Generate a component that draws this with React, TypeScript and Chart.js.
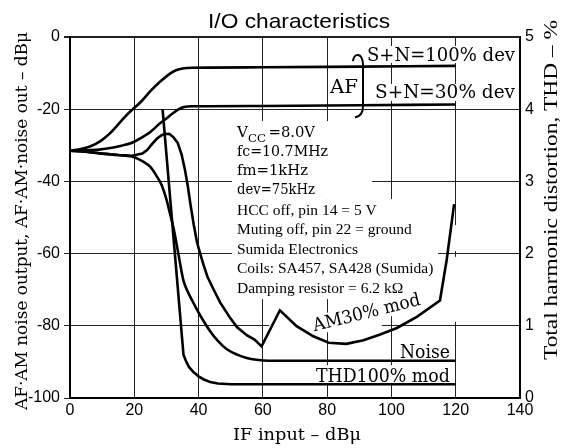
import React, { useEffect, useRef } from 'react';
import { Chart, registerables } from 'chart.js';

Chart.register(...registerables);

// ---- data (x: IF input dBμ, y: output dBμ / THD %) ----
const af100X = [0, 3, 6, 8, 10, 12.4, 15, 17, 19.3, 22, 25, 28, 31, 33, 35, 38, 60, 90, 120];
const af100Y = [-31.5, -31.1, -30.4, -29.6, -28.5, -26.7, -24.2, -22.2, -20.2, -18, -15, -12.4, -10.2, -9.2, -8.7, -8.5, -8.4, -8.2, -8.0];

const af30X = [0, 5, 9, 13, 16, 19.3, 22, 25, 28, 30, 32, 34, 35.5, 38, 60, 90, 120];
const af30Y = [-31.5, -31.4, -31.2, -30.7, -30.1, -29.3, -28.0, -26.3, -23.9, -22.6, -21.1, -19.9, -19.4, -19.2, -19.1, -18.9, -18.7];

const am30X = [0, 5, 10, 15, 19.3, 22.5, 24, 25.5, 27, 28.5, 29.7, 31, 32.2, 33.5, 34.7, 35.7, 36.6, 37.5, 38.5, 39.5, 40.5, 41.5, 42.8, 44.6, 46.7, 49.8, 52, 55, 57.5, 59.6, 65.3, 70.5, 75.7, 80.5, 86, 91.3, 96.5, 101.7, 107.9, 115.1, 117.2, 119.5];
const am30Y = [-31.5, -31.8, -32.3, -32.7, -32.9, -32.3, -31.3, -29.7, -28.2, -27.2, -26.8, -26.9, -27.8, -29.3, -32.5, -36.5, -41, -46.5, -52, -56.8, -60, -63, -66.5, -69.8, -73.5, -77.8, -80.4, -82.6, -83.9, -85.7, -75.7, -80.1, -82.9, -84.7, -85.0, -84.0, -82.4, -80.6, -77.5, -73.0, -61.7, -46.3];

const noiseX = [0, 5, 10, 15, 19.3, 22.8, 25, 27, 28.5, 30, 31, 32.1, 33.3, 34.3, 35.3, 36.5, 38, 39.5, 41.5, 43.6, 46, 48.8, 52, 55, 58, 62, 80, 120];
const noiseY = [-31.5, -31.8, -32.3, -32.7, -33.1, -34.5, -36, -38.6, -41, -45, -48.5, -52.5, -58, -63, -67.5, -70.3, -73, -75.5, -78.6, -81.5, -84.2, -86.5, -88, -88.9, -89.4, -89.7, -89.7, -89.7];

const thdX = [28.8, 35.3, 36, 37, 38.4, 40, 41.5, 43.6, 46, 50, 120];
const thdY = [4.0, 0.6, 0.52, 0.43, 0.36, 0.3, 0.26, 0.22, 0.2, 0.19, 0.19];

// ---- axes ----
const X_MIN = 0, X_MAX = 140, X_STEP = 20;
const Y_MIN = -100, Y_MAX = 0, Y_STEP = 20;
const Y2_MIN = 0, Y2_MAX = 5, Y2_STEP = 1;

// ---- texts ----
const TITLE = 'I/O characteristics';
const X_TITLE = 'IF input – dBμ';
const Y_TITLE = 'AF·AM noise output, AF·AM·noise out – dBμ';
const Y2_TITLE = 'Total harmonic distortion, THD – %';
const COND_TOP = ['fc=10.7MHz', 'fm=1kHz', 'dev=75kHz'];
const COND_TOP_Y = [-32.96, -38.2, -43.5];
const COND_TOP_W = [91, 71, 78];
const COND_BOTTOM = ['HCC off, pin 14 = 5 V', 'Muting off, pin 22 = ground', 'Sumida Electronics', 'Coils: SA457, SA428 (Sumida)', 'Damping resistor = 6.2 kΩ'];
const COND_BOTTOM_Y = [-49.3, -54.7, -60.1, -65.5, -70.9];

// white cut-outs behind labels: [x1, x2, y1, y2] in data units
const MASKS = [
  [50.4, 94.0, -23.3, -44.9],
  [50.4, 114.5, -44.9, -72.6],
  [91.5, 139.1, -2.5, -7.2],
  [94.0, 139.1, -13.0, -17.7],
  [80.6, 87.7, -11.1, -16.3],
  [101.7, 118.8, -84.2, -89.5],
  [75.6, 118.8, -90.9, -96.1],
  [62, 97, -78.9, -81.4],
  [118.8, 120.7, -52.1, -59.3],
  [118.8, 120.7, -60.9, -78.9],
];

const pts = (xs: number[], ys: number[]) => xs.map((x, i) => ({ x, y: ys[i] }));

const DJ = '"DejaVu Serif"';
const LS = '"Liberation Serif"';

function fit(ctx: CanvasRenderingContext2D, text: string, x: number, y: number, font: string, width: number | null, align: CanvasTextAlign = 'left', angle = 0) {
  ctx.save();
  ctx.font = font;
  const w = ctx.measureText(text).width;
  const s = width ? width / w : 1;
  ctx.translate(x, y);
  if (angle) ctx.rotate(angle);
  ctx.scale(s, 1);
  ctx.textAlign = align;
  ctx.textBaseline = 'alphabetic';
  ctx.fillStyle = '#000';
  ctx.fillText(text, 0, 0);
  ctx.restore();
}

const annotate = {
  id: 'annotate',
  beforeDatasetsDraw(chart: any) {
    const { ctx, scales } = chart;
    const X = (v: number) => scales.x.getPixelForValue(v);
    const Y = (v: number) => scales.y.getPixelForValue(v);
    ctx.save();
    ctx.fillStyle = '#fff';
    for (const [x1, x2, y1, y2] of MASKS) {
      const a = X(x1), b = X(x2), c = Y(y1), d = Y(y2);
      ctx.fillRect(Math.min(a, b), Math.min(c, d), Math.abs(b - a), Math.abs(d - c));
    }
    ctx.translate(X(92.7), Y(-77.84));
    ctx.rotate((-14 * Math.PI) / 180);
    ctx.fillRect(-58, -15, 116, 19);
    ctx.restore();
  },
  afterDatasetsDraw(chart: any) {
    const { ctx, scales, chartArea: ca } = chart;
    const X = (v: number) => scales.x.getPixelForValue(v);
    const Y = (v: number) => scales.y.getPixelForValue(v);
    const midX = (ca.left + ca.right) / 2;

    fit(ctx, TITLE, midX + 4, 28, '21px "Liberation Sans"', 182, 'center');
    fit(ctx, X_TITLE, midX + 2, 440, `17px ${DJ}`, 128, 'center');
    fit(ctx, Y_TITLE, 27, 221, `17px ${DJ}`, 378, 'center', -Math.PI / 2);
    fit(ctx, Y2_TITLE, 557, 190, `19px ${LS}`, 340, 'center', -Math.PI / 2);

    // conditions block
    const cx = X(51.95);
    fit(ctx, 'V', cx, Y(-27.7), `14px ${DJ}`, 11);
    fit(ctx, 'CC', X(55.38), Y(-28.95), `11px ${DJ}`, 18);
    fit(ctx, '=8.0V', X(61.76), Y(-27.7), `14px ${DJ}`, 46.5);
    COND_TOP.forEach((t, i) => fit(ctx, t, cx, Y(COND_TOP_Y[i]), `14px ${DJ}`, COND_TOP_W[i]));
    COND_BOTTOM.forEach((t, i) => fit(ctx, t, cx, Y(COND_BOTTOM_Y[i]), `15.5px ${LS}`, null));

    // curve labels
    fit(ctx, 'S+N=100% dev', X(92.4), Y(-6.57), `18px ${DJ}`, 148);
    fit(ctx, 'S+N=30% dev', X(94.9), Y(-16.98), `18px ${DJ}`, 140);
    fit(ctx, 'AF', X(85.24), Y(-15.6), `18px ${DJ}`, 28, 'center');
    fit(ctx, 'Noise', X(118.2), Y(-88.8), `19px ${DJ}`, 50, 'right');
    fit(ctx, 'THD100% mod', X(118.2), Y(-95.5), `19px ${DJ}`, 134, 'right');
    fit(ctx, 'AM30% mod', X(92.7), Y(-77.84), `18px ${DJ}`, 110, 'center', (-14 * Math.PI) / 180);

    // brace for AF
    ctx.save();
    ctx.strokeStyle = '#000';
    ctx.lineWidth = 2;
    ctx.beginPath();
    ctx.moveTo(X(88.04), Y(-6.65));
    ctx.bezierCurveTo(X(88.36), Y(-4.43), X(90.85), Y(-4.16), X(91.16), Y(-7.48));
    ctx.lineTo(X(91.16), Y(-19.11));
    ctx.quadraticCurveTo(X(91.16), Y(-21.88), X(88.67), Y(-22.3));
    ctx.stroke();
    ctx.restore();
  },
};

const lineStyle = { borderColor: '#000', borderWidth: 2.6, pointRadius: 0, fill: false };

export default function App() {
  const ref = useRef<HTMLCanvasElement>(null);
  useEffect(() => {
    const chart = new Chart(ref.current as HTMLCanvasElement, {
      type: 'line',
      data: {
        datasets: [
          { ...lineStyle, label: 'S+N=100% dev', data: pts(af100X, af100Y), cubicInterpolationMode: 'monotone', yAxisID: 'y' },
          { ...lineStyle, label: 'S+N=30% dev', data: pts(af30X, af30Y), cubicInterpolationMode: 'monotone', yAxisID: 'y' },
          { ...lineStyle, label: 'AM30% mod', data: pts(am30X, am30Y), tension: 0, yAxisID: 'y' },
          { ...lineStyle, label: 'Noise', data: pts(noiseX, noiseY), cubicInterpolationMode: 'monotone', yAxisID: 'y' },
          { ...lineStyle, label: 'THD100% mod', data: pts(thdX, thdY), tension: 0, yAxisID: 'y2' },
        ] as any,
      },
      options: {
        animation: false,
        responsive: false,
        layout: { padding: { top: 37, left: 0, right: 0, bottom: 0 } },
        plugins: { legend: { display: false }, title: { display: false }, tooltip: { enabled: false } },
        scales: {
          x: {
            type: 'linear',
            min: X_MIN,
            max: X_MAX,
            ticks: { stepSize: X_STEP, color: '#000', font: { family: '"Liberation Sans"', size: 16 }, padding: 3, maxRotation: 0, autoSkip: false },
            grid: { color: '#222', lineWidth: 1, drawTicks: false },
            border: { display: true, color: '#000', width: 2 },
            afterFit: (s: any) => { s.height = 50; },
          },
          y: {
            type: 'linear',
            position: 'left',
            min: Y_MIN,
            max: Y_MAX,
            ticks: { stepSize: Y_STEP, color: '#000', font: { family: '"Liberation Sans"', size: 16 }, padding: 4 },
            grid: { color: '#222', lineWidth: (c: any) => (c.tick && c.tick.value === 0 ? 2 : 1), drawTicks: true, tickLength: 6 },
            border: { display: true, color: '#000', width: 2 },
            afterFit: (s: any) => { s.width = 70; },
          },
          y2: {
            type: 'linear',
            position: 'right',
            min: Y2_MIN,
            max: Y2_MAX,
            ticks: { stepSize: Y2_STEP, color: '#000', font: { family: '"Liberation Sans"', size: 16 }, padding: 5 },
            grid: { drawOnChartArea: false, drawTicks: false },
            border: { display: true, color: '#000', width: 2 },
            afterFit: (s: any) => { s.width = 52; },
          },
        },
      } as any,
      plugins: [annotate as any],
    });
    return () => chart.destroy();
  }, []);
  return (
    <div style={{ position: 'fixed', left: 0, top: 0, width: 572, height: 448, background: '#fff' }}>
      <canvas ref={ref} width={572} height={448} style={{ display: 'block' }} />
    </div>
  );
}
